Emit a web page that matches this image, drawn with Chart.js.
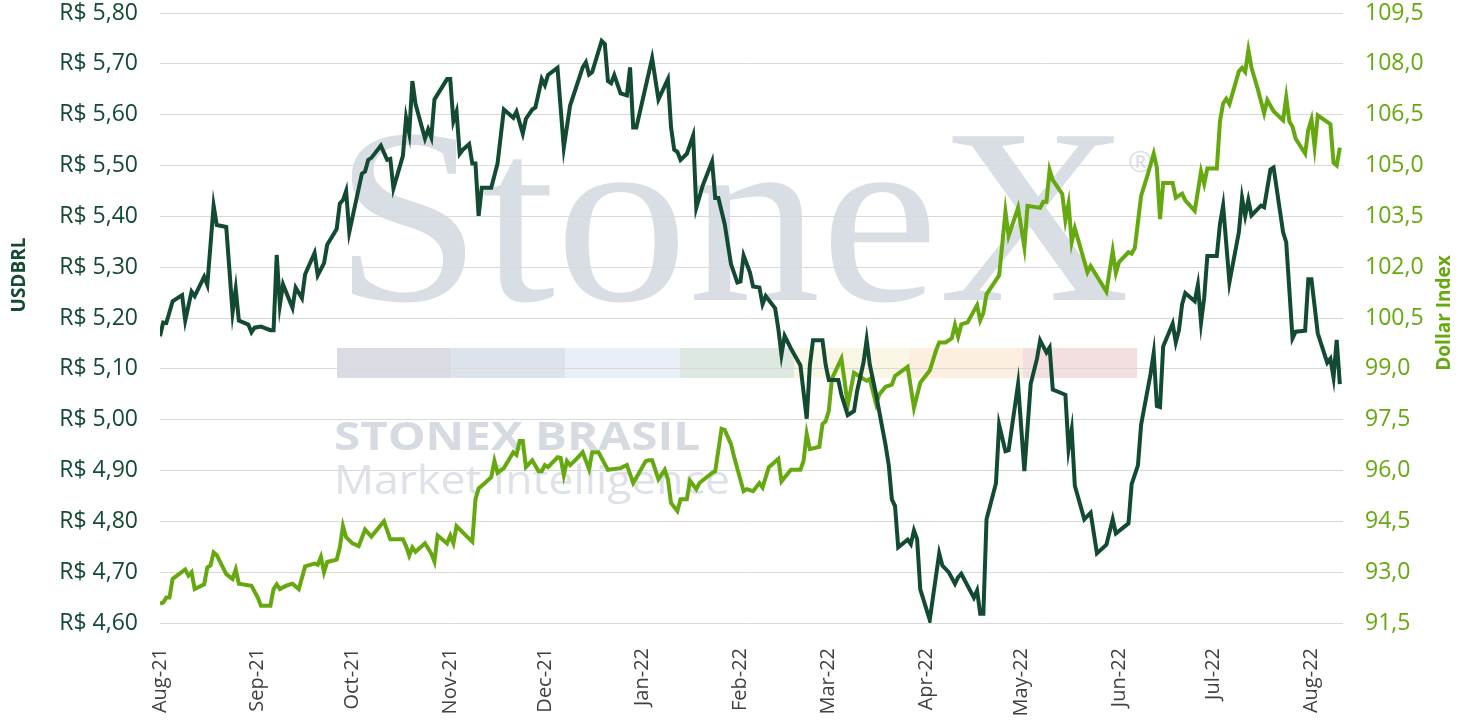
<!DOCTYPE html>
<html>
<head>
<meta charset="utf-8">
<script src="https://cdn.jsdelivr.net/npm/chart.js@4.4.1/dist/chart.umd.min.js"></script>
<style>
  body { margin: 0; background: #ffffff; }
  canvas { display: block; }
</style>
</head>
<body>
<canvas id="fxChart" width="1470" height="726"></canvas>
<script>
// days counted from 2 Aug 2021 (first observation)
const tickDays = [0, 31, 61, 92, 122, 153, 184, 212, 243, 273, 304, 334, 365];
const tickLabels = ["Aug-21", "Sep-21", "Oct-21", "Nov-21", "Dec-21", "Jan-22", "Feb-22",
  "Mar-22", "Apr-22", "May-22", "Jun-22", "Jul-22", "Aug-22"];

const usdDays = [0, 1, 2, 4, 7, 8, 10, 11, 14, 15, 17, 18, 21, 23, 24, 25, 28, 29, 30, 32,
  35, 36, 37, 38, 39, 42, 43, 45, 46, 49, 50, 52, 53, 56, 57, 58, 59, 60, 64, 65,
  66, 67, 70, 72, 73, 74, 77, 78, 79, 80, 81, 84, 85, 86, 87, 88, 91, 92, 93, 94,
  95, 96, 98, 99, 100, 101, 102, 105, 107, 109, 112, 113, 115, 116, 118, 119, 121, 122, 123, 126,
  128, 130, 134, 135, 136, 137, 140, 141, 142, 143, 144, 146, 148, 149, 150, 151, 156, 158, 161, 162,
  163, 164, 165, 167, 169, 170, 172, 175, 176, 177, 179, 181, 183, 184, 185, 187, 188, 190, 191, 192,
  195, 196, 197, 198, 200, 203, 205, 206, 207, 210, 211, 212, 215, 216, 218, 220, 221, 223, 224, 225,
  227, 230, 231, 232, 233, 234, 237, 238, 239, 240, 241, 244, 247, 248, 250, 252, 253, 254, 258, 259,
  260, 261, 262, 265, 266, 268, 269, 272, 274, 276, 278, 279, 281, 282, 283, 287, 288, 289, 290, 293,
  295, 297, 300, 302, 303, 307, 308, 310, 311, 314, 315, 316, 317, 318, 321, 322, 323, 324, 325, 328,
  329, 330, 331, 332, 335, 336, 337, 339, 342, 343, 344, 345, 346, 349, 350, 352, 353, 356, 357, 359,
  360, 363, 364, 365, 367, 370, 371, 372, 373, 374];
const usdValues = [5.164, 5.191, 5.19, 5.233, 5.245, 5.195, 5.252, 5.243, 5.281, 5.265, 5.421, 5.383, 5.379, 5.211, 5.257, 5.195, 5.187, 5.172, 5.181, 5.183,
  5.176, 5.176, 5.324, 5.225, 5.266, 5.22, 5.26, 5.239, 5.286, 5.328, 5.284, 5.308, 5.344, 5.375, 5.425, 5.432, 5.45, 5.369, 5.484, 5.488,
  5.511, 5.515, 5.539, 5.511, 5.513, 5.455, 5.519, 5.594, 5.563, 5.666, 5.621, 5.553, 5.571, 5.555, 5.63, 5.64, 5.67, 5.67, 5.587, 5.606,
  5.523, 5.531, 5.542, 5.504, 5.504, 5.401, 5.456, 5.456, 5.504, 5.61, 5.594, 5.606, 5.563, 5.592, 5.61, 5.614, 5.67, 5.658, 5.678, 5.692,
  5.535, 5.618, 5.693, 5.703, 5.679, 5.684, 5.745, 5.739, 5.666, 5.662, 5.678, 5.642, 5.638, 5.693, 5.575, 5.575, 5.711, 5.63, 5.67, 5.575,
  5.531, 5.527, 5.511, 5.523, 5.559, 5.417, 5.46, 5.508, 5.436, 5.436, 5.385, 5.306, 5.27, 5.272, 5.323, 5.29, 5.262, 5.26, 5.227, 5.243,
  5.219, 5.179, 5.128, 5.165, 5.14, 5.107, 5.002, 5.107, 5.156, 5.156, 5.108, 5.078, 5.078, 5.049, 5.009, 5.017, 5.057, 5.112, 5.157, 5.108,
  5.049, 4.95, 4.911, 4.843, 4.83, 4.749, 4.764, 4.755, 4.782, 4.765, 4.666, 4.606, 4.737, 4.713, 4.70, 4.677, 4.69, 4.697, 4.65, 4.664,
  4.618, 4.618, 4.804, 4.875, 4.99, 4.938, 4.94, 5.07, 4.899, 5.07, 5.12, 5.156, 5.132, 5.142, 5.059, 5.049, 4.942, 4.98, 4.87, 4.804,
  4.817, 4.737, 4.754, 4.804, 4.776, 4.796, 4.873, 4.91, 4.99, 5.09, 5.131, 5.027, 5.025, 5.144, 5.189, 5.152, 5.176, 5.227, 5.249, 5.233,
  5.265, 5.191, 5.24, 5.322, 5.322, 5.385, 5.421, 5.27, 5.369, 5.436, 5.401, 5.432, 5.402, 5.421, 5.418, 5.492, 5.496, 5.369, 5.349, 5.16,
  5.173, 5.175, 5.276, 5.276, 5.17, 5.112, 5.12, 5.083, 5.157, 5.07];

const dxyDays = [0, 1, 2, 3, 4, 6, 8, 9, 10, 11, 14, 15, 16, 17, 18, 21, 23, 24, 25, 29,
  31, 32, 35, 36, 37, 38, 40, 42, 44, 46, 49, 50, 51, 52, 53, 56, 57, 58, 59, 61,
  63, 65, 67, 71, 73, 77, 78, 79, 80, 81, 84, 86, 87, 88, 91, 92, 93, 94, 97, 99,
  100, 101, 103, 105, 106, 107, 109, 112, 113, 114, 115, 116, 118, 120, 121, 122, 123, 126, 127, 128,
  129, 130, 132, 134, 136, 137, 139, 142, 146, 148, 150, 154, 155, 156, 158, 160, 161, 162, 164, 165,
  167, 168, 170, 171, 175, 176, 178, 179, 181, 182, 185, 186, 188, 190, 191, 193, 196, 197, 200, 203,
  204, 205, 206, 209, 210, 211, 212, 213, 216, 217, 218, 220, 223, 224, 225, 227, 228, 230, 232, 233,
  237, 239, 241, 244, 246, 247, 249, 251, 252, 253, 254, 256, 259, 260, 261, 262, 266, 267, 268, 269,
  272, 274, 275, 279, 280, 281, 282, 283, 286, 287, 288, 289, 290, 294, 295, 297, 300, 302, 303, 304,
  307, 308, 309, 311, 313, 315, 316, 317, 318, 321, 322, 324, 325, 328, 330, 331, 332, 335, 336, 337,
  338, 339, 342, 343, 344, 345, 346, 348, 350, 351, 353, 356, 357, 358, 359, 360, 363, 364, 365, 366,
  367, 371, 372, 373, 374];
const dxyValues = [92.07, 92.1, 92.25, 92.25, 92.8, 92.94, 93.08, 92.9, 93.0, 92.5, 92.64, 93.14, 93.2, 93.58, 93.5, 92.94, 92.8, 93.08, 92.66, 92.6,
  92.25, 92.01, 92.01, 92.5, 92.64, 92.5, 92.6, 92.66, 92.5, 93.17, 93.25, 93.22, 93.45, 93.0, 93.3, 93.37, 93.73, 94.36, 94.03, 93.85,
  93.77, 94.26, 94.05, 94.5, 93.97, 93.97, 93.77, 93.49, 93.73, 93.6, 93.85, 93.55, 93.31, 94.08, 93.85, 94.08, 93.85, 94.36, 94.08, 93.9,
  95.15, 95.47, 95.63, 95.8, 96.28, 95.93, 96.07, 96.54, 96.46, 96.87, 96.87, 96.1, 96.3, 95.98, 95.98, 96.16, 96.1, 96.39, 96.37, 95.86,
  96.28, 96.16, 96.34, 96.54, 96.04, 96.54, 96.54, 96.02, 96.07, 96.16, 95.63, 96.28, 96.3, 96.3, 95.74, 96.02, 95.74, 95.04, 94.8, 95.15,
  95.15, 95.7, 95.45, 95.63, 95.93, 95.98, 97.23, 97.2, 96.78, 96.4, 95.39, 95.45, 95.39, 95.63, 95.5, 96.1, 96.34, 95.68, 96.02, 96.02,
  96.28, 97.08, 96.63, 96.7, 97.37, 97.45, 97.76, 98.71, 99.3, 98.65, 97.92, 98.88, 98.7, 98.65, 98.7, 97.96, 98.24, 98.47, 98.53, 98.79,
  99.06, 97.85, 98.59, 98.95, 99.54, 99.78, 99.78, 99.9, 100.29, 99.95, 100.31, 100.37, 100.88, 100.43, 100.65, 101.2, 101.76, 102.68, 103.63, 102.92,
  103.75, 102.59, 103.81, 103.75, 103.93, 103.93, 104.87, 104.57, 104.16, 103.39, 103.87, 102.74, 103.15, 101.85, 102.03, 101.73, 101.28, 102.47, 101.83, 102.15,
  102.44, 102.4, 102.56, 104.1, 104.7, 105.35, 104.93, 103.42, 104.48, 104.48, 104.05, 104.17, 103.97, 103.66, 104.82, 104.46, 104.91, 104.91, 106.3, 106.83,
  106.97, 106.81, 107.78, 107.88, 107.76, 108.4, 107.88, 107.25, 106.54, 106.93, 106.6, 106.33, 107.01, 106.3, 106.14, 105.79, 105.35, 106.06, 106.36, 105.55,
  106.48, 106.22, 105.08, 105.0, 105.53];

const darkGreen = "#134a32";
const lightGreen = "#66a80f";
const fontFamily = "'Open Sans', 'DejaVu Sans', sans-serif";

const toPoints = (days, values) => days.map((d, i) => ({ x: d, y: values[i] }));

// logo watermark behind the grid
const watermark = {
  id: "watermark",
  beforeDraw(chart) {
    const ctx = chart.ctx;
    ctx.save();
    ctx.fillStyle = "#ffffff";
    ctx.fillRect(0, 0, chart.width, chart.height);

    ctx.fillStyle = "#d9dee5";
    ctx.textBaseline = "alphabetic";
    ctx.textAlign = "left";
    ctx.font = "250px 'Liberation Serif', 'DejaVu Serif', serif";
    const w = ctx.measureText("StoneX").width;
    ctx.save();
    ctx.translate(334, 300);
    ctx.scale(796 / w, 1);
    ctx.fillText("StoneX", 0, 0);
    ctx.restore();
    ctx.font = "30px " + fontFamily;
    ctx.fillText("®", 1128, 172);

    const bands = ["#d9dde3", "#dde3ea", "#e8eff6", "#dde8e1", "#faf6e5", "#fcefdf", "#f3dfe0"];
    bands.forEach((c, i) => {
      ctx.fillStyle = c;
      ctx.fillRect(337 + i * 114.3, 348, 114.3, 30);
    });

    ctx.fillStyle = "#d6dbe2";
    ctx.font = "bold 39px " + fontFamily;
    const w2 = ctx.measureText("STONEX BRASIL").width;
    ctx.save();
    ctx.translate(334, 450);
    ctx.scale(366 / w2, 1);
    ctx.fillText("STONEX BRASIL", 0, 0);
    ctx.restore();

    ctx.fillStyle = "#dee2e8";
    ctx.font = "40px " + fontFamily;
    const w3 = ctx.measureText("Market Intelligence").width;
    ctx.save();
    ctx.translate(334, 494);
    ctx.scale(396 / w3, 1);
    ctx.fillText("Market Intelligence", 0, 0);
    ctx.restore();
    ctx.restore();
  },
};

// both axis titles read bottom to top
const axisTitles = {
  id: "axisTitles",
  afterDraw(chart) {
    const ctx = chart.ctx;
    ctx.save();
    ctx.font = "bold 19px " + fontFamily;
    ctx.textAlign = "center";
    ctx.textBaseline = "middle";
    [["USDBRL", 20, 275, darkGreen], ["Dollar Index", 1445, 313, lightGreen]].forEach(([t, x, y, c]) => {
      ctx.save();
      ctx.translate(x, y);
      ctx.rotate(-Math.PI / 2);
      ctx.fillStyle = c;
      ctx.fillText(t, 0, 0);
      ctx.restore();
    });
    ctx.restore();
  },
};

const ctx = document.getElementById("fxChart").getContext("2d");

const chart = new Chart(ctx, {
  type: "line",
  data: {
    datasets: [
      {
        label: "USDBRL",
        data: toPoints(usdDays, usdValues),
        yAxisID: "y",
        borderColor: darkGreen,
        borderWidth: 4,
        pointRadius: 0,
        tension: 0,
      },
      {
        label: "Dollar Index",
        data: toPoints(dxyDays, dxyValues),
        yAxisID: "y1",
        borderColor: lightGreen,
        borderWidth: 4,
        pointRadius: 0,
        tension: 0,
      },
    ],
  },
  options: {
    responsive: false,
    devicePixelRatio: 1,
    animation: false,
    layout: { padding: { top: 13, left: 0, right: 0, bottom: 0 } },
    plugins: {
      legend: { display: false },
      tooltip: { enabled: false },
    },
    scales: {
      x: {
        type: "linear",
        min: 0,
        max: 375,
        afterBuildTicks: (scale) => {
          scale.ticks = tickDays.map((v) => ({ value: v }));
        },
        afterFit: (scale) => {
          scale.height = 103;
          scale.paddingLeft = 0;
          scale.paddingRight = 0;
        },
        ticks: {
          autoSkip: false,
          minRotation: 90,
          maxRotation: 90,
          padding: 17,
          color: "#404040",
          font: { family: fontFamily, size: 20 },
          callback: (value, index) => tickLabels[index],
        },
        grid: { display: false },
        border: { display: false },
      },
      y: {
        position: "left",
        min: 4.6,
        max: 5.8,
        afterFit: (scale) => {
          scale.width = 160;
          scale.paddingTop = 0;
          scale.paddingBottom = 0;
        },
        ticks: {
          stepSize: 0.1,
          padding: 22,
          color: darkGreen,
          font: { family: fontFamily, size: 23 },
          callback: (value) => "R$ " + value.toFixed(2).replace(".", ","),
        },
        grid: { color: "#d9d9d9", lineWidth: 1, drawTicks: false },
        border: { display: false },
      },
      y1: {
        position: "right",
        min: 91.5,
        max: 109.5,
        afterFit: (scale) => {
          scale.width = 127;
          scale.paddingTop = 0;
          scale.paddingBottom = 0;
        },
        ticks: {
          stepSize: 1.5,
          padding: 22,
          color: lightGreen,
          font: { family: fontFamily, size: 23 },
          callback: (value) => value.toFixed(1).replace(".", ","),
        },
        grid: { display: false, drawTicks: false },
        border: { display: false },
      },
    },
  },
  plugins: [watermark, axisTitles],
});
</script>
</body>
</html>
